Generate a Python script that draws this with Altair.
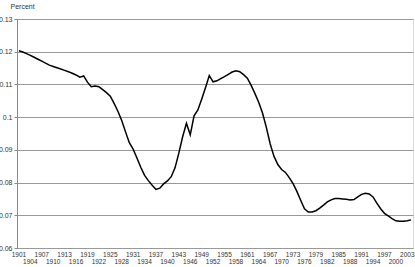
import altair as alt
import pandas as pd

years = list(range(1901, 2005))
values = [
    0.1203, 0.1199, 0.1194, 0.1189, 0.1183, 0.1177, 0.1171, 0.1165, 0.1159, 0.1155,
    0.1151, 0.1147, 0.1143, 0.1139, 0.1134, 0.1129, 0.1122, 0.1126, 0.1107, 0.1093,
    0.1095, 0.1093, 0.1084, 0.1075, 0.1064, 0.1042, 0.1018, 0.0990, 0.0955, 0.0922,
    0.0902, 0.0875, 0.0847, 0.0822, 0.0806, 0.0792, 0.0779, 0.0783, 0.0796, 0.0805,
    0.0818, 0.0845, 0.0890, 0.0940, 0.0981, 0.0946, 0.1004, 0.1022, 0.1055, 0.1090,
    0.1127, 0.1108, 0.1111, 0.1118, 0.1124, 0.1131, 0.1138, 0.1142, 0.1139, 0.1130,
    0.1119, 0.1097, 0.1072, 0.1045, 0.1012, 0.0968, 0.0918, 0.0880, 0.0855, 0.0840,
    0.0831, 0.0815, 0.0797, 0.0773, 0.0746, 0.0720, 0.0710, 0.0710, 0.0714, 0.0722,
    0.0731, 0.0741, 0.0747, 0.0751, 0.0751, 0.0750, 0.0749, 0.0747, 0.0748, 0.0756,
    0.0764, 0.0767, 0.0765, 0.0756, 0.0737, 0.0720, 0.0706, 0.0698, 0.0690, 0.0683,
    0.0682, 0.0682, 0.0683, 0.0686,
]
label_years = list(range(1901, 2004, 3))
y_ticks = [0.06, 0.07, 0.08, 0.09, 0.10, 0.11, 0.12, 0.13]

df = pd.DataFrame({"year": years, "value": values})
labels_df = pd.DataFrame({
    "year": label_years,
    "label": [str(y) for y in label_years],
    "row": [i % 2 for i in range(len(label_years))],
})

FONT = "Liberation Sans"
H = 229
xscale = alt.Scale(domain=[1900.5, 2004.5], nice=False, zero=False)

line = alt.Chart(df).mark_line(color="black", strokeWidth=1.5).encode(
    x=alt.X(
        "year:Q",
        scale=xscale,
        axis=alt.Axis(
            values=years,
            labels=False,
            tickSize=3,
            tickColor="#888",
            domainColor="#888",
            grid=False,
            title=None,
        ),
    ),
    y=alt.Y(
        "value:Q",
        scale=alt.Scale(domain=[0.06, 0.13], nice=False, zero=False),
        axis=alt.Axis(
            values=y_ticks,
            labelExpr="format(datum.value, '.2~f')",
            labelFontSize=7,
            labelFont=FONT,
            labelColor="#333",
            labelPadding=2,
            tickSize=3,
            tickColor="#888",
            domainColor="#888",
            gridColor="#999",
            gridWidth=1,
            title="Percent",
            titleAngle=0,
            titleAlign="left",
            titleBaseline="middle",
            titleX=-7,
            titleY=-13,
            titleFont=FONT,
            titleFontSize=7,
            titleFontWeight="normal",
            titleColor="#333",
        ),
    ),
)

def label_row(row, ypos):
    return alt.Chart(labels_df).transform_filter(
        alt.datum.row == row
    ).mark_text(
        align="center",
        baseline="middle",
        font=FONT,
        fontSize=6.5,
        color="#333",
    ).encode(
        x=alt.X("year:Q", scale=xscale, axis=None),
        y=alt.value(ypos),
        text="label:N",
    )

chart = alt.layer(line, label_row(0, H + 7), label_row(1, H + 14)).properties(
    width=396,
    height=H,
    padding={"left": 17, "top": 19, "right": 2, "bottom": 19},
    autosize="none",
).configure_view(stroke=None).configure(background="white")

chart.save("out.html", embed_options={"renderer": "svg", "actions": False})
